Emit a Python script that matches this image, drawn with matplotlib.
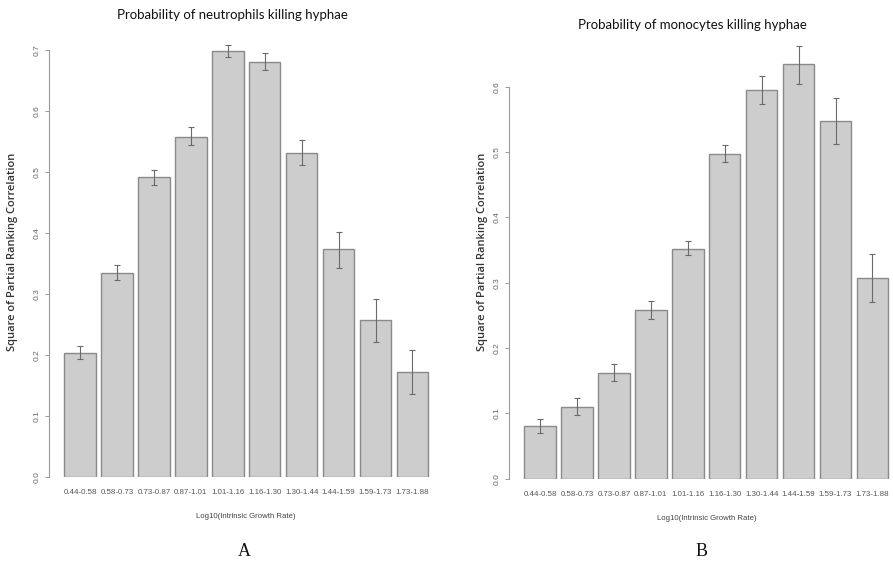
import numpy as np
import matplotlib
matplotlib.use('Agg')
import matplotlib.pyplot as plt

#--------- Data --------------
groups = ['0.44-0.58', '0.58-0.73', '0.73-0.87', '0.87-1.01', '1.01-1.16',
          '1.16-1.30', '1.30-1.44', '1.44-1.59', '1.59-1.73', '1.73-1.88']

neut_vals = [0.204, 0.335, 0.491, 0.558, 0.698, 0.681, 0.531, 0.373, 0.257, 0.172]
neut_lo = [0.193, 0.323, 0.478, 0.545, 0.688, 0.668, 0.511, 0.343, 0.222, 0.136]
neut_hi = [0.215, 0.347, 0.504, 0.573, 0.709, 0.695, 0.552, 0.402, 0.292, 0.209]

mono_vals = [0.081, 0.110, 0.162, 0.258, 0.352, 0.497, 0.595, 0.634, 0.547, 0.307]
mono_lo = [0.070, 0.098, 0.149, 0.244, 0.342, 0.485, 0.573, 0.604, 0.512, 0.270]
mono_hi = [0.092, 0.123, 0.176, 0.272, 0.364, 0.511, 0.616, 0.663, 0.582, 0.344]
#-----------------------------

W, H = 893, 564
fig = plt.figure(figsize=(W / 100, H / 100), dpi=100)

sans = ['Liberation Sans', 'DejaVu Sans']
step = 36.94  # pixels per bar slot


def make_panel(left_px, right_px, bottom_px, top_px, first_px, ymax, y_top_px,
               vals, lo, hi, title, title_xy, ylab_x, ytick_vals, xlab_xy, letter_xy, letter):
    ax = fig.add_axes([left_px / W, 1 - bottom_px / H,
                       (right_px - left_px) / W, (bottom_px - top_px) / H])
    x = np.arange(len(vals))
    vals = np.array(vals)
    yerr = np.array([vals - np.array(lo), np.array(hi) - vals])
    ax.bar(x, vals, width=0.855, color='#cdcdcd', edgecolor='#8a8a8a', linewidth=1.0)
    ax.errorbar(x, vals, yerr=yerr, fmt='none', ecolor='#6a6a6a', elinewidth=0.8,
                capsize=2.2, capthick=0.8)
    ax.set_xlim(-(first_px - left_px) / step, (right_px - first_px) / step)
    # y limit so that tick ymax sits at y_top_px
    ax.set_ylim(0, ymax * (bottom_px - top_px) / (bottom_px - y_top_px))
    for s in ['top', 'right', 'bottom']:
        ax.spines[s].set_visible(False)
    ax.spines['left'].set_bounds(0, ymax)
    ax.spines['left'].set_color('#9a9a9a')
    ax.spines['left'].set_linewidth(0.8)
    ax.set_yticks(ytick_vals)
    ax.set_yticklabels([f'{v:.1f}' for v in ytick_vals], rotation=90, va='center',
                       fontsize=6, color='#666666', family=sans)
    ax.tick_params(axis='y', length=3, width=0.7, color='#9a9a9a', pad=3)
    ax.set_xticks(x)
    ax.set_xticklabels(groups, fontsize=5.7, color='#555555', family=sans)
    ax.tick_params(axis='x', length=0, pad=9)

    fig.text(title_xy[0] / W, 1 - title_xy[1] / H, title, ha='center', va='center',
             fontsize=9.5, family=['Lato', 'DejaVu Sans'], color='#111111')
    fig.text(ylab_x / W, 1 - 252 / H, 'Square of Partial Ranking Correlation',
             rotation=90, ha='center', va='center', fontsize=8, fontweight='semibold',
             family=['Open Sans', 'DejaVu Sans'], color='#333333')
    fig.text(xlab_xy[0] / W, 1 - xlab_xy[1] / H, 'Log10(Intrinsic Growth Rate)',
             ha='center', va='center', fontsize=5.6, family=sans, color='#444444')
    fig.text(letter_xy[0] / W, 1 - letter_xy[1] / H, letter, ha='center', va='center',
             fontsize=13, family=['Liberation Serif', 'DejaVu Serif'], color='#111111')
    return ax


make_panel(49, 432, 477, 40, 80, 0.7, 50,
           neut_vals, neut_lo, neut_hi,
           'Probability of neutrophils killing hyphae', (232, 15), 13,
           np.arange(0, 0.71, 0.1), (246, 517), (244, 552), 'A')

make_panel(509, 893, 478.7, 40, 540, 0.6, 86.7,
           mono_vals, mono_lo, mono_hi,
           'Probability of monocytes killing hyphae', (692, 25), 482,
           np.arange(0, 0.61, 0.1), (707, 518), (702, 552), 'B')

fig.savefig('out.png', dpi=100)
